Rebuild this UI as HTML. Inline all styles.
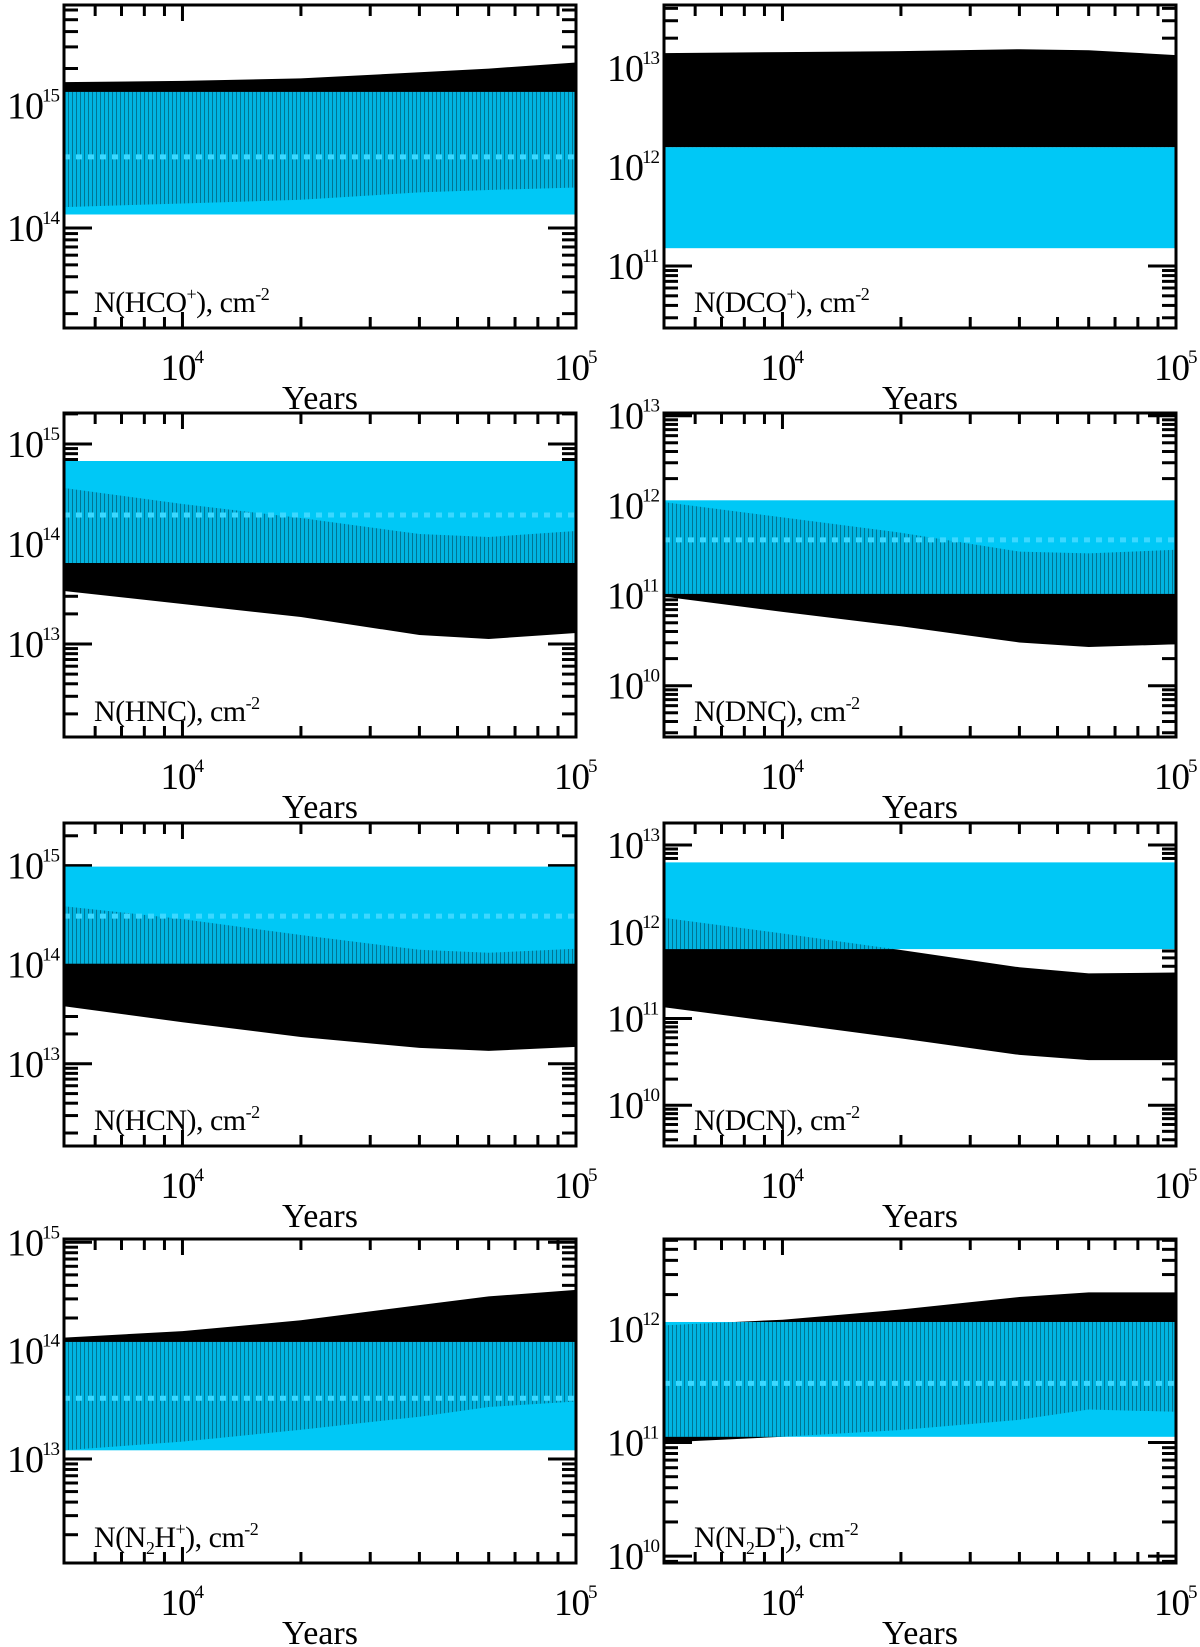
<!DOCTYPE html>
<html><head><meta charset="utf-8"><title>Column densities vs time</title>
<style>
html,body{margin:0;padding:0;background:#fff;}
svg{display:block;font-family:"Liberation Serif","DejaVu Serif",serif;}
</style></head>
<body>
<svg id="fig" width="1200" height="1647" viewBox="0 0 1200 1647" xmlns="http://www.w3.org/2000/svg">
<defs>
<pattern id="stripes" width="4" height="10" patternUnits="userSpaceOnUse">
<rect x="0" y="0" width="1" height="10" fill="rgba(0,0,0,0.35)"/>
</pattern>
</defs>
</svg>
<script>
// Time grid (years)
const times = [5000, 10000, 20000, 40000, 60000, 100000];
// Model bands: log10 of column density (cm^-2), lower / upper edge
const hcoLo  = [14.17, 14.20, 14.23, 14.29, 14.31, 14.33];
const hcoHi  = [15.19, 15.20, 15.22, 15.27, 15.30, 15.35];
const dcoLo  = [12.20, 12.20, 12.20, 12.20, 12.20, 12.20];
const dcoHi  = [13.15, 13.16, 13.17, 13.19, 13.18, 13.13];
const hncLo  = [13.53, 13.40, 13.27, 13.09, 13.05, 13.11];
const hncHi  = [14.56, 14.40, 14.26, 14.10, 14.07, 14.13];
const dncLo  = [10.99, 10.82, 10.66, 10.48, 10.43, 10.46];
const dncHi  = [12.04, 11.87, 11.70, 11.49, 11.47, 11.51];
const hcnLo  = [13.58, 13.42, 13.27, 13.16, 13.13, 13.17];
const hcnHi  = [14.59, 14.46, 14.30, 14.15, 14.12, 14.16];
const dcnLo  = [11.13, 10.95, 10.77, 10.58, 10.52, 10.52];
const dcnHi  = [12.16, 11.98, 11.79, 11.59, 11.52, 11.53];
const n2hLo  = [13.08, 13.16, 13.27, 13.39, 13.48, 13.53];
const n2hHi  = [14.12, 14.18, 14.28, 14.42, 14.50, 14.56];
const n2dLo  = [11.00, 11.05, 11.11, 11.20, 11.29, 11.27];
const n2dHi  = [12.03, 12.08, 12.17, 12.28, 12.32, 12.32];
// Observed ranges: log10 [low, high], and observed value (null = not drawn)
const obsLo  = [14.11, 11.18, 13.81, 11.02, 14.01, 11.80, 13.08, 11.05];
const obsHi  = [15.11, 12.20, 14.83, 12.06, 14.99, 12.80, 14.08, 12.06];
const obsMid = [14.58, null, 14.29, 11.62, 14.49, null, 13.56, 11.52];
// Axis ranges (log10)
const yMin = [13.184, 10.374, 12.07, 9.43, 12.17, 9.53, 12.04, 9.94];
const yMax = [15.819, 13.636, 15.31, 13.03, 15.43, 13.254, 15.03, 12.79];
const xTickVals = [6000,7000,8000,9000,10000,20000,30000,40000,50000,60000,70000,80000,90000];
const xLabelExps = [4, 5];
const panelLabels = [
 'N(HCO<tspan dy="-12" font-size="18">+</tspan><tspan dy="12">), cm</tspan><tspan dy="-12" font-size="18">-2</tspan>',
 'N(DCO<tspan dy="-12" font-size="18">+</tspan><tspan dy="12">), cm</tspan><tspan dy="-12" font-size="18">-2</tspan>',
 'N(HNC), cm<tspan dy="-12" font-size="18">-2</tspan>',
 'N(DNC), cm<tspan dy="-12" font-size="18">-2</tspan>',
 'N(HCN), cm<tspan dy="-12" font-size="18">-2</tspan>',
 'N(DCN), cm<tspan dy="-12" font-size="18">-2</tspan>',
 'N(N<tspan dy="7" font-size="18">2</tspan><tspan dy="-7">H</tspan><tspan dy="-12" font-size="18">+</tspan><tspan dy="12">), cm</tspan><tspan dy="-12" font-size="18">-2</tspan>',
 'N(N<tspan dy="7" font-size="18">2</tspan><tspan dy="-7">D</tspan><tspan dy="-12" font-size="18">+</tspan><tspan dy="12">), cm</tspan><tspan dy="-12" font-size="18">-2</tspan>'
];
const panelNames = ['hco','dco','hnc','dnc','hcn','dcn','n2h','n2d'];
const modelLo = [hcoLo, dcoLo, hncLo, dncLo, hcnLo, dcnLo, n2hLo, n2dLo];
const modelHi = [hcoHi, dcoHi, hncHi, dncHi, hcnHi, dcnHi, n2hHi, n2dHi];

const cols = [[64, 576], [664, 1176]];
const rows = [[5, 328], [413, 737], [823, 1146], [1239, 1563]];
const NS = 'http://www.w3.org/2000/svg';
const svg = document.getElementById('fig');
const CYAN = '#00c8f6';

function mk(tag, attrs, parent) {
  const e = document.createElementNS(NS, tag);
  for (const k in attrs) e.setAttribute(k, attrs[k]);
  parent.appendChild(e);
  return e;
}

for (let p = 0; p < 8; p++) {
  const [x0, x1] = cols[p % 2];
  const [yt, yb] = rows[Math.floor(p / 2)];
  const lx0 = Math.log10(5000), lx1 = 5;
  const xs = t => x0 + (Math.log10(t) - lx0) / (lx1 - lx0) * (x1 - x0);
  const ys = L => yb - (L - yMin[p]) / (yMax[p] - yMin[p]) * (yb - yt);

  const g = mk('g', {}, svg);
  
  

  const clipId = 'clip' + p;
  const cp = mk('clipPath', {id: clipId}, g);
  mk('rect', {x: x0, y: yt, width: x1 - x0, height: yb - yt}, cp);

  // y ticks
  const yt_g = mk('g', {stroke: '#000', 'stroke-width': 3}, g);
  
  
  for (let k = Math.floor(yMin[p]); k <= Math.ceil(yMax[p]); k++) {
    for (let m = 1; m <= 9; m++) {
      const L = k + Math.log10(m);
      if (L <= yMin[p] || L >= yMax[p]) continue;
      const y = ys(L), len = m === 1 ? 28 : 14;
      mk('line', {x1: x0, x2: x0 + len, y1: y, y2: y}, yt_g);
      mk('line', {x1: x1, x2: x1 - len, y1: y, y2: y}, yt_g);
    }
    if (k >= yMin[p] && k <= yMax[p]) {
      const y = ys(k);
      const t = mk('text', {x: x0 - 21, y: y + 13, 'text-anchor': 'end', 'font-size': 38, fill: '#000', 'letter-spacing': '-1'}, g);
      t.textContent = '10';
      
      
      const s = mk('text', {x: x0 - 22, y: y - 4, 'font-size': 19, fill: '#000', 'letter-spacing': '-1'}, g);
      s.textContent = String(k);
      
      
    }
  }
  // x ticks
  const xt_g = mk('g', {stroke: '#000', 'stroke-width': 3}, g);
  
  
  xTickVals.forEach(v => {
    const x = xs(v), len = v === 10000 ? 16 : 11;
    mk('line', {x1: x, x2: x, y1: yb, y2: yb - len}, xt_g);
    mk('line', {x1: x, x2: x, y1: yt, y2: yt + len}, xt_g);
  });

  // bands
  const bands = mk('g', {'clip-path': 'url(#' + clipId + ')'}, g);
  let d = '';
  times.forEach((t, i) => { d += (i ? 'L' : 'M') + xs(t).toFixed(1) + ',' + ys(modelHi[p][i]).toFixed(1); });
  for (let i = times.length - 1; i >= 0; i--) d += 'L' + xs(times[i]).toFixed(1) + ',' + ys(modelLo[p][i]).toFixed(1);
  d += 'Z';
  const mb = mk('path', {d: d, fill: '#000'}, bands);
  
  
  const ob = mk('rect', {x: x0, y: ys(obsHi[p]), width: x1 - x0, height: ys(obsLo[p]) - ys(obsHi[p]), fill: CYAN}, bands);
  
  
  const cp2 = mk('clipPath', {id: 'oc' + p}, g);
  mk('rect', {x: x0, y: ys(obsHi[p]), width: x1 - x0, height: ys(obsLo[p]) - ys(obsHi[p])}, cp2);
  const sh = mk('path', {d: d, fill: 'rgba(0,40,70,0.12)', 'clip-path': 'url(#oc' + p + ')'}, bands);
  
  
  const st = mk('path', {d: d, fill: 'url(#stripes)', 'clip-path': 'url(#oc' + p + ')'}, bands);
  
  
  if (obsMid[p] !== null) {
    const ml = mk('line', {x1: x0, x2: x1, y1: ys(obsMid[p]), y2: ys(obsMid[p]), stroke: '#3cd8ff', 'stroke-width': 5, 'stroke-dasharray': '6 6'}, bands);
    
    
  }

  // frame
  const fr = mk('rect', {x: x0, y: yt, width: x1 - x0, height: yb - yt, fill: 'none', stroke: '#000', 'stroke-width': 3}, g);
  
  

  // x labels
  xLabelExps.forEach(e => {
    const x = xs(Math.pow(10, e));
    const t = mk('text', {x: x - 22, y: yb + 52, 'font-size': 37, fill: '#000', 'letter-spacing': '-1'}, g);
    t.textContent = '10';
    
    
    const s = mk('text', {x: x + 12, y: yb + 35, 'font-size': 19, fill: '#000'}, g);
    s.textContent = String(e);
    
    
  });
  const xt = mk('text', {x: (x0 + x1) / 2, y: yb + 81, 'text-anchor': 'middle', 'font-size': 34, fill: '#000'}, g);
  xt.textContent = 'Years';
  
  

  const lb = mk('text', {x: x0 + 30, y: yb - 16, 'font-size': 30, fill: '#000', 'letter-spacing': '-0.5'}, g);
  lb.innerHTML = panelLabels[p];
  
  
}
</script>
</body></html>
